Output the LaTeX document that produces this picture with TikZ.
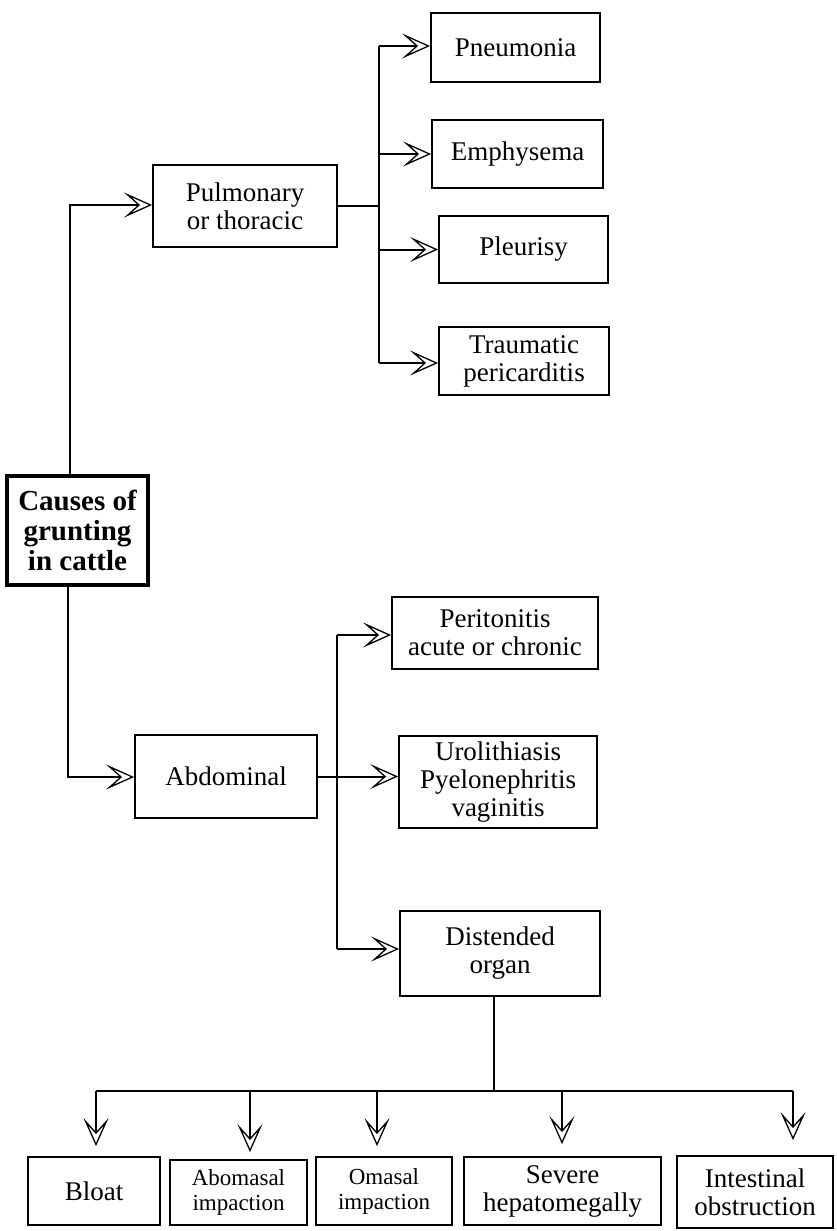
\documentclass[tikz,border=0pt]{standalone}
\usepackage{fontspec}
\setmainfont{Liberation Serif}
\usetikzlibrary{arrows.meta}
\tikzset{
  box/.style={draw, line width=1.8pt, inner sep=0pt, align=center,
    font=\fontsize{27}{28}\selectfont},
  smallbox/.style={box, font=\fontsize{23}{25}\selectfont},
  mainbox/.style={draw, line width=3.2pt, inner sep=0pt, align=center,
    font=\fontsize{29}{30}\selectfont\bfseries},
  link/.style={line width=2pt},
  arr/.style={link, -{Stealth[open, length=28pt, width=25pt, inset=14pt, line width=1.3pt]}},
}
\begin{document}
\begin{tikzpicture}[x=1pt,y=-1pt]
\useasboundingbox (0,0) rectangle (836,1231);

% root
\node[mainbox, minimum width=141pt, minimum height=109pt] (main) at (77.5,530.5)
  {Causes of\\grunting\\in cattle};

% upper branch
\node[box, minimum width=184pt, minimum height=82pt] (pulm) at (245,206) {Pulmonary\\or thoracic};
\node[box, minimum width=169pt, minimum height=69pt] (pneu) at (515.5,47.5) {Pneumonia};
\node[box, minimum width=171pt, minimum height=68pt] (emph) at (517.5,154) {Emphysema};
\node[box, minimum width=169pt, minimum height=67pt] (pleu) at (523.5,249.5) {Pleurisy};
\node[box, minimum width=170pt, minimum height=68pt] (trau) at (524,361) {Traumatic\\pericarditis};

% lower branch
\node[box, minimum width=182pt, minimum height=83pt] (abd) at (226,776.5) {Abdominal};
\node[box, minimum width=206pt, minimum height=72pt] (peri) at (495,633) {Peritonitis\\acute or chronic};
\node[box, minimum width=198pt, minimum height=92pt] (uro) at (498,782) {Urolithiasis\\Pyelonephritis\\vaginitis};
\node[box, minimum width=200pt, minimum height=85pt] (dist) at (500,953.5) {Distended\\organ};

% distended organs
\node[box, minimum width=132pt, minimum height=68pt] (bloat) at (94,1191) {Bloat};
\node[smallbox, minimum width=137pt, minimum height=65pt] (abom) at (238.5,1192.5) {Abomasal\\impaction};
\node[smallbox, minimum width=136pt, minimum height=68pt] (omas) at (384,1191) {Omasal\\impaction};
\node[box, minimum width=197pt, minimum height=68pt] (sev) at (562.5,1191) {Severe\\hepatomegally};
\node[box, minimum width=156pt, minimum height=72pt] (inte) at (755,1192) {Intestinal\\obstruction};

% junction points
\coordinate (tl) at (70,205);
\coordinate (bt) at (379,46);
\coordinate (bb) at (379,363);
\coordinate (al) at (68,777);
\coordinate (ct) at (337,635);
\coordinate (cb) at (337,949);
\coordinate (dn) at (494,1091);
\coordinate (d1) at (96,1091);
\coordinate (d2) at (250,1091);
\coordinate (d3) at (377,1091);
\coordinate (d4) at (562,1091);
\coordinate (d5) at (793,1091);

% root to pulmonary
\draw[arr] (main.north -| tl) -- (tl) -- (pulm.west |- tl);
% pulmonary fan-out
\draw[link] (pulm.east) -- (pulm.east -| bt);
\draw[link] (bt) -- (bb);
\draw[arr] (bt) -- (pneu.west |- bt);
\draw[arr] (bt |- emph.west) -- (emph.west);
\draw[arr] (bt |- pleu.west) -- (pleu.west);
\draw[arr] (bb) -- (trau.west |- bb);

% root to abdominal
\draw[arr] (main.south -| al) -- (al) -- (abd.west |- al);
% abdominal fan-out
\draw[arr] (abd.east) -- (uro.west |- abd.east);
\draw[link] (ct) -- (cb);
\draw[arr] (ct) -- (peri.west |- ct);
\draw[arr] (cb) -- (dist.west |- cb);

% distended organ fan-out
\draw[link] (dist.south -| dn) -- (dn);
\draw[link] (d1) -- (d5);
\draw[arr, shorten >=10pt] (d1) -- (d1 |- bloat.north);
\draw[arr, shorten >=7pt] (d2) -- (d2 |- abom.north);
\draw[arr, shorten >=10pt] (d3) -- (d3 |- omas.north);
\draw[arr, shorten >=12pt] (d4) -- (d4 |- sev.north);
\draw[arr, shorten >=15pt] (d5) -- (d5 |- inte.north);
\end{tikzpicture}
\end{document}
